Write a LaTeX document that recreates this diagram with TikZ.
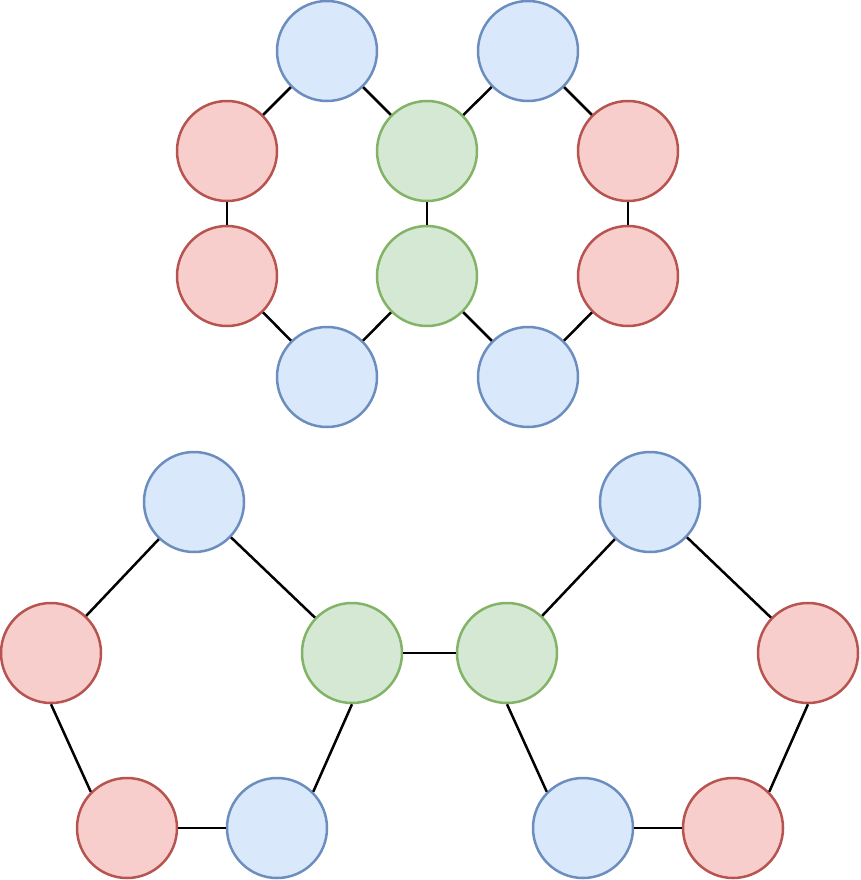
\documentclass[tikz,border=0pt]{standalone}
\definecolor{bfill}{HTML}{DAE8FC}\definecolor{bdraw}{HTML}{6C8EBF}
\definecolor{rfill}{HTML}{F8CECC}\definecolor{rdraw}{HTML}{B85450}
\definecolor{gfill}{HTML}{D5E8D4}\definecolor{gdraw}{HTML}{82B366}
\tikzset{
  base/.style={circle,minimum size=100pt,inner sep=0pt,line width=2.5pt},
  bn/.style={base,fill=bfill,draw=bdraw},
  rn/.style={base,fill=rfill,draw=rdraw},
  gn/.style={base,fill=gfill,draw=gdraw},
  ed/.style={line width=2.5pt,black}
}
\begin{document}
\begin{tikzpicture}[x=1pt,y=-1pt]
\useasboundingbox (0,0) rectangle (860,880);
% top
\node[bn] (tb1) at (327,51) {};
\node[bn] (tb2) at (528,51) {};
\node[rn] (tr1) at (227,151) {};
\node[gn] (tg1) at (427,151) {};
\node[rn] (tr2) at (628,151) {};
\node[rn] (tr3) at (227,276) {};
\node[gn] (tg2) at (427,276) {};
\node[rn] (tr4) at (628,276) {};
\node[bn] (tb3) at (327,377) {};
\node[bn] (tb4) at (528,377) {};
% bottom
\node[bn] (bb1) at (194,502) {};
\node[bn] (bb2) at (650,502) {};
\node[rn] (br1) at (51,653) {};
\node[gn] (bg1) at (352,653) {};
\node[gn] (bg2) at (507,653) {};
\node[rn] (br2) at (808,653) {};
\node[rn] (br3) at (127,828) {};
\node[bn] (bb3) at (277,828) {};
\node[bn] (bb4) at (583,828) {};
\node[rn] (br4) at (733,828) {};
% top edges
\draw[ed] (tb1) -- (tr1);
\draw[ed] (tb1) -- (tg1);
\draw[ed] (tb2) -- (tg1);
\draw[ed] (tb2) -- (tr2);
\draw[ed] (tr1) -- (tr3);
\draw[ed] (tg1) -- (tg2);
\draw[ed] (tr2) -- (tr4);
\draw[ed] (tr3) -- (tb3);
\draw[ed] (tb3) -- (tg2);
\draw[ed] (tg2) -- (tb4);
\draw[ed] (tb4) -- (tr4);
% bottom edges
\draw[ed] (bb1) -- (br1);
\draw[ed] (bb1) -- (bg1);
\draw[ed] (br1.south) -- (br3.north west);
\draw[ed] (br3) -- (bb3);
\draw[ed] (bb3.north east) -- (bg1.south);
\draw[ed] (bg1) -- (bg2);
\draw[ed] (bg2) -- (bb2);
\draw[ed] (bb2) -- (br2);
\draw[ed] (bg2.south) -- (bb4.north west);
\draw[ed] (bb4) -- (br4);
\draw[ed] (br4.north east) -- (br2.south);
\end{tikzpicture}
\end{document}
